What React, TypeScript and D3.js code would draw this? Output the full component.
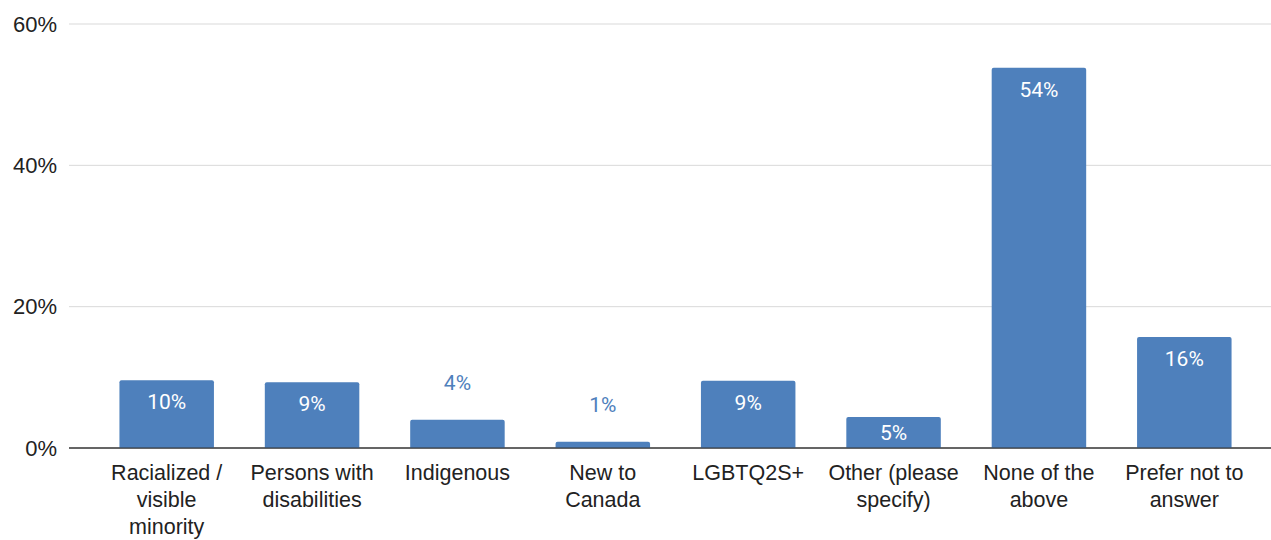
import * as d3 from 'd3'

const categories: string[][] = [
  ['Racialized /', 'visible', 'minority'],
  ['Persons with', 'disabilities'],
  ['Indigenous'],
  ['New to', 'Canada'],
  ['LGBTQ2S+'],
  ['Other (please', 'specify)'],
  ['None of the', 'above'],
  ['Prefer not to', 'answer'],
]
const values = [9.6, 9.3, 4.0, 0.9, 9.5, 4.4, 53.8, 15.7]
const valueLabels = ['10%', '9%', '4%', '1%', '9%', '5%', '54%', '16%']
const yTicks = [0, 20, 40, 60]

const W = 1271
const H = 540
const BLUE = '#4e80bc'

export default function App() {
  const keys = categories.map((_, i) => String(i))
  const x = d3.scaleBand<string>().domain(keys).range([94, 1257]).paddingInner(0.35).paddingOuter(0.175)
  const y = d3.scaleLinear().domain([0, 60]).range([448, 24])

  return (
    <svg width={W} height={H} style={{ position: 'absolute', left: 0, top: 0, background: '#fff' }}>
      {yTicks.map((t) => (
        <g key={t}>
          <line x1={69} x2={W} y1={y(t)} y2={y(t)} stroke={t === 0 ? '#333' : '#d9d9d9'} strokeWidth={1} />
          <text
            x={57}
            y={y(t)}
            dy="0.35em"
            textAnchor="end"
            fontFamily="'Liberation Sans', Arial, sans-serif"
            fontSize={22}
            fill="#222"
          >
            {t}%
          </text>
        </g>
      ))}
      {values.map((v, i) => {
        const bx = x(keys[i]) ?? 0
        const top = y(v)
        const inside = 448 - top > 30
        return (
          <g key={i}>
            <path
              d={`M${bx},448 V${top + 2} Q${bx},${top} ${bx + 2},${top} H${bx + x.bandwidth() - 2} Q${bx + x.bandwidth()},${top} ${bx + x.bandwidth()},${top + 2} V448 Z`}
              fill={BLUE}
            />
            <text
              x={bx + x.bandwidth() / 2}
              y={inside ? Math.min(top + 29, 440) : top - 30}
              textAnchor="middle"
              fontFamily="Roboto, sans-serif"
              fontSize={21}
              fill={inside ? '#fff' : BLUE}
            >
              {valueLabels[i]}
            </text>
          </g>
        )
      })}
      <line x1={69} x2={W} y1={448} y2={448} stroke="#333" strokeWidth={1} />
      {categories.map((lines, i) => (
        <text
          key={i}
          x={(x(keys[i]) ?? 0) + x.bandwidth() / 2}
          textAnchor="middle"
          fontFamily="'Liberation Sans', Arial, sans-serif"
          fontSize={21.5}
          fill="#222"
        >
          {lines.map((l, j) => (
            <tspan key={j} x={(x(keys[i]) ?? 0) + x.bandwidth() / 2} y={480 + j * 27}>
              {l}
            </tspan>
          ))}
        </text>
      ))}
    </svg>
  )
}
